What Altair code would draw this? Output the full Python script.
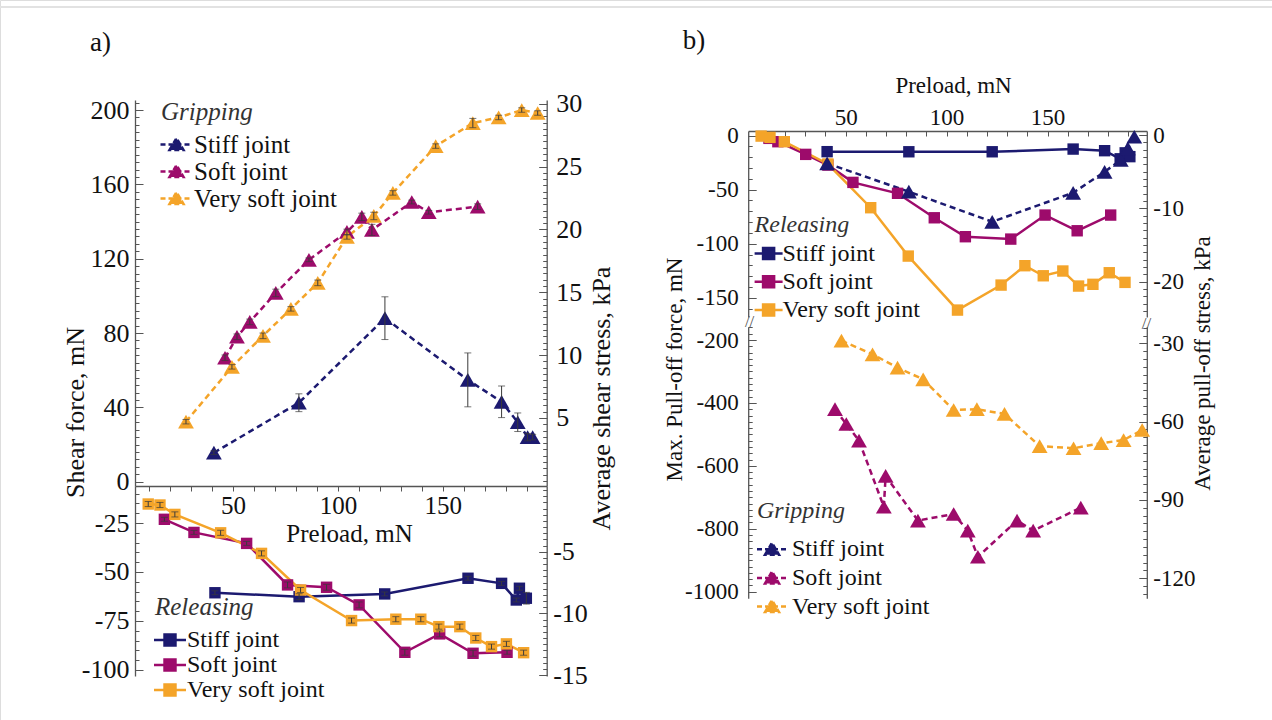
import altair as alt
import pandas as pd

# ---------------- data ----------------
SERIES = ["Stiff joint", "Soft joint", "Very soft joint"]
COLORS = ["#1c1a70", "#9d0b6b", "#f4a429"]

# panel a) - gripping (shear force, mN)
A_GRIP_STIFF_X = [40.9, 81.4, 122.4, 161.9, 178.0, 185.7, 190.4, 192.8]
A_GRIP_STIFF_Y = [15.6, 42.5, 88.0, 54.8, 43.0, 32.0, 24.0, 24.0]
A_GRIP_STIFF_E = [1.0, 4.8, 11.5, 14.5, 8.5, 5.0, 2.0, 1.5]
A_GRIP_SOFT_X = [46.2, 51.9, 58.0, 70.4, 86.2, 104.3, 111.4, 116.2, 135.2, 143.3, 166.6]
A_GRIP_SOFT_Y = [66.7, 78.0, 86.0, 101.6, 119.4, 134.4, 142.5, 135.5, 150.5, 145.0, 148.0]
A_GRIP_SOFT_E = [1.5, 1.5, 1.5, 2.0, 1.0, 1.5, 2.0, 3.0, 1.0, 1.0, 1.5]
A_GRIP_VSOFT_X = [27.6, 49.5, 64.3, 77.6, 90.4, 104.3, 117.1, 126.2, 146.6, 164.3, 176.6, 187.6, 195.2]
A_GRIP_VSOFT_Y = [32.3, 61.8, 78.5, 93.0, 107.0, 131.7, 143.0, 155.4, 180.6, 193.0, 196.0, 200.0, 198.4]
A_GRIP_VSOFT_E = [1.2, 1.2, 1.5, 1.2, 1.5, 1.2, 2.0, 1.2, 1.2, 2.5, 1.2, 1.2, 1.2]

# panel a) - releasing
A_REL_STIFF_X = [41.4, 81.5, 122.3, 162.0, 178.0, 185.0, 186.5, 189.8]
A_REL_STIFF_Y = [-60.6, -62.6, -61.2, -53.2, -55.8, -64.3, -58.3, -63.4]
A_REL_STIFF_E = [1.0, 1.5, 1.0, 1.0, 1.0, 1.0, 1.0, 3.0]
A_REL_SOFT_X = [17.3, 31.4, 56.5, 76.0, 94.6, 110.1, 131.9, 148.5, 164.4, 180.6]
A_REL_SOFT_Y = [-23.1, -29.8, -35.4, -56.6, -57.8, -66.8, -91.0, -81.6, -91.5, -91.0]
A_REL_SOFT_E = [1.0, 1.0, 1.0, 1.5, 1.5, 1.5, 1.5, 1.5, 1.5, 1.0]
A_REL_VSOFT_X = [9.6, 15.2, 22.3, 44.1, 63.6, 82.2, 106.5, 127.6, 139.5, 148.1, 158.1, 165.7, 173.2, 180.3, 188.5]
A_REL_VSOFT_Y = [-15.3, -15.8, -20.6, -30.0, -40.5, -59.2, -74.8, -74.1, -74.1, -77.9, -77.9, -83.7, -88.1, -86.7, -91.2]
A_REL_VSOFT_E = [1.3, 1.3, 1.3, 1.3, 1.3, 1.3, 1.3, 1.3, 1.3, 1.3, 1.3, 1.3, 1.3, 1.3, 1.3]

# panel b) - releasing (max. pull-off force, mN)
B_REL_STIFF_X = [40.8, 81.3, 122.6, 162.7, 178.3, 186.0, 188.5, 190.8]
B_REL_STIFF_Y = [-14.9, -15.0, -15.0, -12.5, -14.0, -21.5, -16.0, -19.5]
B_REL_SOFT_X = [12.0, 16.4, 30.2, 41.2, 53.6, 75.7, 93.9, 109.3, 131.8, 148.8, 164.7, 181.3]
B_REL_SOFT_Y = [-2.6, -5.7, -17.4, -27.3, -43.3, -53.4, -76.0, -93.5, -95.7, -73.5, -88.0, -73.5]
B_REL_VSOFT_X = [8.1, 12.5, 19.6, 41.2, 62.4, 81.0, 105.4, 127.0, 138.8, 147.9, 157.6, 165.4, 172.5, 180.6, 188.4]
B_REL_VSOFT_Y = [-0.5, -1.7, -5.7, -26.3, -66.7, -111.4, -161.3, -138.2, -120.3, -129.6, -125.2, -139.1, -137.5, -126.8, -135.7]
B_GRIP_STIFF_X = [40.8, 81.3, 122.6, 162.7, 178.3, 186.3, 189.8, 193.0]
B_GRIP_STIFF_Y = [-25.7, -51.9, -79.7, -52.9, -33.5, -22.6, -11.8, -1.1]

# panel b) - gripping
B_GRIP_SOFT_X = [44.7, 50.3, 56.6, 68.9, 69.8, 85.8, 103.5, 110.5, 115.5, 134.9, 142.9, 166.5]
B_GRIP_SOFT_Y = [-420, -467, -520, -730, -632, -774, -753, -806, -889, -774, -806, -733]
B_GRIP_VSOFT_X = [47.9, 63.3, 75.7, 88.4, 103.5, 115.0, 128.7, 146.1, 162.9, 176.6, 187.7, 196.9]
B_GRIP_VSOFT_Y = [-202, -245.5, -288, -325, -422.5, -420, -435, -537, -544, -528, -518, -486]

# ---------------- layout / styling ----------------
FONT = "Liberation Serif"
TXT = "#111111"
AX = "#555555"
ERR = "#3a3a3a"
W, H = 1272, 720
LW = 2.5
TRI_SIZE, SQ_SIZE = 250, 130

A_XDOM, A_XR = [3.3, 199.5], [135, 546.7]
B_XDOM, B_XR = [1.7, 199.2], [748.2, 1146.8]
A_TOP_Y, A_TOP_R, A_TOP_PX = [-2.31, 205.4], [-0.41, 30.29], [486, 100]
A_BOT_Y, A_BOT_R, A_BOT_PX = [-103.1, -6.1], [-15.08, 0.33], [676, 486]
B_TOP_Y, B_TOP_R, B_TOP_PX = [-167.7, 4.2], [-24.8, 0.55], [317, 131]
B_BOT_Y, B_BOT_R, B_BOT_PX = [-1021.0, -157.7], [-127.7, -23.6], [598.3, 326.7]


def frange(lo, hi, step, dom):
    out, v = [], lo
    while v <= hi + 1e-9:
        if dom[0] - 1e-9 <= v <= dom[1] + 1e-9:
            out.append(round(v, 4))
        v += step
    return out


def sframe(xs, ys, name, es=None):
    return pd.DataFrame({"x": xs, "y": ys, "s": name,
                         "e": es if es is not None else [0.0] * len(xs)})


def sc(dom, rng):
    return alt.Scale(domain=dom, range=rng, nice=False, zero=False)


def cscale():
    return alt.Scale(domain=SERIES, range=COLORS)


def legend(title, lsize, tsize, path, dash, lx, ly, row_pad, title_pad, label_offset, ghost):
    # the visible legend draws line + outline; the "ghost" one (same layout) fills the marker
    kw = dict(title=" " if ghost else title, orient="none", legendX=lx, legendY=ly,
              direction="vertical",
              titleFont=FONT, titleFontSize=tsize, titleFontStyle="italic",
              titleFontWeight="normal", titleColor="#333333", titlePadding=title_pad,
              titleAnchor="start", titleAlign="left",
              labelFont=FONT, labelFontSize=lsize, labelColor=TXT, labelOffset=label_offset,
              labelLimit=400, symbolType=path, symbolSize=256,
              symbolOpacity=1, rowPadding=row_pad, padding=0, offset=0)
    if ghost:
        kw.update(labelExpr="' '", symbolStrokeWidth=0)
    else:
        kw.update(symbolStrokeWidth=2.5)
        if dash:
            kw["symbolDash"] = dash
    return alt.Legend(**kw)


def data_layers(frames, xdom, xr, ydom, yr, dashed, shape, size, leg_args):
    df = pd.concat(frames, ignore_index=True)
    X = alt.X("x:Q", scale=sc(xdom, xr), axis=None)
    Y = alt.Y("y:Q", scale=sc(ydom, yr), axis=None)
    lkw = dict(strokeWidth=LW)
    if dashed:
        lkw["strokeDash"] = [6, 4]
    layers = [
        alt.Chart(df).mark_line(**lkw).encode(
            X, Y, stroke=alt.Stroke("s:N", scale=cscale(), legend=legend(*leg_args, False))),
        alt.Chart(df).mark_point(filled=True, shape=shape, size=size, opacity=1).encode(
            X, Y, fill=alt.Fill("s:N", scale=cscale(), legend=legend(*leg_args, True))),
    ]
    edf = df[df["e"] > 0]
    if len(edf):
        base = alt.Chart(edf).transform_calculate(lo="datum.y - datum.e", hi="datum.y + datum.e")
        layers.append(base.mark_rule(color=ERR, strokeWidth=1).encode(
            X, alt.Y("lo:Q", scale=sc(ydom, yr), axis=None), y2="hi:Q"))
        layers.append(base.transform_fold(["lo", "hi"], as_=["k", "v"]).mark_tick(
            orient="horizontal", size=7, thickness=1, color=ERR).encode(
            X, alt.Y("v:Q", scale=sc(ydom, yr), axis=None)))
    return layers


def y_axes(dom, yr, x0, x1, major, minor, side, lsize, lpad, title=None, tx=0.0, ty=0.0, tsize=23):
    # side: 'left' axis at x0, 'right' axis at x1 (absolute pixels)
    d = pd.DataFrame({"v": dom})
    if side == "left":
        off_main, other, off_in = -x0, "right", -(W - x0)
    else:
        off_main, other, off_in = -(W - x1), "left", -x1
    kw = dict(orient=side, offset=off_main, values=major, ticks=False, tickSize=0, domain=True,
              domainColor=AX, domainWidth=1.3, labelFont=FONT, labelFontSize=lsize,
              labelColor=TXT, labelPadding=lpad, labelExpr="datum.value + ''",
              labelOverlap=False, labelFlush=False, grid=False)
    if title:
        kw.update(title=title, titleX=tx, titleY=ty, titleAngle=270, titleAlign="center",
                  titleBaseline="middle", titleFont=FONT, titleFontSize=tsize,
                  titleFontWeight="normal", titleColor=TXT)
    else:
        kw["title"] = None
    layers = [alt.Chart(d).mark_point(opacity=0).encode(
        y=alt.Y("v:Q", scale=sc(dom, yr), axis=alt.Axis(**kw)))]
    for vals, ts in ((major, 8), (minor, 4)):
        layers.append(alt.Chart(d).mark_point(opacity=0).encode(
            y=alt.Y("v:Q", scale=sc(dom, yr), axis=alt.Axis(
                orient=other, offset=off_in, values=vals, ticks=True, tickSize=ts,
                tickColor=AX, tickWidth=1, labels=False, domain=False, grid=False,
                title=None))))
    return layers


def text_layer(txt, px, py, size, color=TXT):
    return alt.Chart(pd.DataFrame({"t": [txt]})).mark_text(
        font=FONT, fontSize=size, color=color, align="center", baseline="middle").encode(
        text="t:N", x=alt.value(px), y=alt.value(py))


# ---------------- legend symbols (line + marker) ----------------
TRI_A = "M-1.625,0L2.375,0M-0.5,0.69L0.375,-0.81L1.25,0.69Z"
SQ_A = "M-1.625,0L2.375,0M-0.31,-0.69L1.06,-0.69L1.06,0.69L-0.31,0.69Z"
SQ_B = "M-1.5,0L2,0M-0.44,-0.69L0.94,-0.69L0.94,0.69L-0.44,0.69Z"
TRI_B = "M-1.5,0L2.25,0M-0.5,0.69L0.375,-0.81L1.25,0.69Z"

layers = []

# faint frame line at the top of the figure
layers.append(alt.Chart(pd.DataFrame({"t": [0]})).mark_rule(color="#e2e2e2", strokeWidth=2).encode(
    x=alt.value(0), x2=alt.value(W), y=alt.value(7)))

# ---- panel a) top: gripping ----
layers += data_layers(
    [sframe(A_GRIP_STIFF_X, A_GRIP_STIFF_Y, SERIES[0], A_GRIP_STIFF_E),
     sframe(A_GRIP_SOFT_X, A_GRIP_SOFT_Y, SERIES[1], A_GRIP_SOFT_E),
     sframe(A_GRIP_VSOFT_X, A_GRIP_VSOFT_Y, SERIES[2], A_GRIP_VSOFT_E)],
    A_XDOM, A_XR, A_TOP_Y, A_TOP_PX, True, "triangle-up", TRI_SIZE,
    ("Gripping", 25, 25, TRI_A, [5, 3], 161, 100, 1, 7, 8))
layers += y_axes(A_TOP_Y, A_TOP_PX, A_XR[0], A_XR[1], [0, 40, 80, 120, 160, 200],
                 frange(0, 204, 4, A_TOP_Y), "left", 26, 6, "Shear force, mN", -60, 412, 26)
layers += y_axes(A_TOP_R, A_TOP_PX, A_XR[0], A_XR[1], [5, 10, 15, 20, 25, 30],
                 frange(0, 30, 0.5, A_TOP_R), "right", 26, 9,
                 "Average shear stress, kPa", 55, 398, 26)
layers.append(alt.Chart(pd.DataFrame({"v": A_XDOM})).mark_point(opacity=0).encode(
    x=alt.X("v:Q", scale=sc(A_XDOM, A_XR), axis=alt.Axis(
        orient="bottom", offset=-(H - 486), values=list(range(10, 200, 10)), tickSize=5,
        tickColor=AX, domain=True, domainColor=AX, domainWidth=1.3, grid=False,
        labelExpr="datum.value % 50 === 0 ? datum.value + '' : ''",
        labelFont=FONT, labelFontSize=25, labelColor=TXT, labelPadding=2,
        labelOverlap=False, labelFlush=False,
        title="Preload, mN", titleX=349, titleY=47, titleAlign="center",
        titleBaseline="middle", titleFont=FONT, titleFontSize=25,
        titleFontWeight="normal", titleColor=TXT))))
layers.append(text_layer("a)", 100.5, 43, 27))

# ---- panel a) bottom: releasing ----
layers += data_layers(
    [sframe(A_REL_STIFF_X, A_REL_STIFF_Y, SERIES[0], A_REL_STIFF_E),
     sframe(A_REL_SOFT_X, A_REL_SOFT_Y, SERIES[1], A_REL_SOFT_E),
     sframe(A_REL_VSOFT_X, A_REL_VSOFT_Y, SERIES[2], A_REL_VSOFT_E)],
    A_XDOM, A_XR, A_BOT_Y, A_BOT_PX, False, "square", SQ_SIZE,
    ("Releasing", 24, 25, SQ_A, None, 155, 595, 1, 8, 8))
layers += y_axes(A_BOT_Y, A_BOT_PX, A_XR[0], A_XR[1], [-25, -50, -75, -100],
                 frange(-100, -10, 5, A_BOT_Y), "left", 26, 6)
layers += y_axes(A_BOT_R, A_BOT_PX, A_XR[0], A_XR[1], [-5, -10, -15],
                 frange(-15, 0, 0.5, A_BOT_R), "right", 26, 6)

# ---- panel b) top: releasing (+ stiff joint gripping) ----
sg = sframe(B_GRIP_STIFF_X, B_GRIP_STIFF_Y, SERIES[0])
BX = alt.X("x:Q", scale=sc(B_XDOM, B_XR), axis=None)
BY = alt.Y("y:Q", scale=sc(B_TOP_Y, B_TOP_PX), axis=None)
layers.append(alt.Chart(sg).mark_line(color=COLORS[0], strokeWidth=LW,
                                      strokeDash=[6, 4]).encode(BX, BY))
layers += data_layers(
    [sframe(B_REL_STIFF_X, B_REL_STIFF_Y, SERIES[0]),
     sframe(B_REL_SOFT_X, B_REL_SOFT_Y, SERIES[1]),
     sframe(B_REL_VSOFT_X, B_REL_VSOFT_Y, SERIES[2])],
    B_XDOM, B_XR, B_TOP_Y, B_TOP_PX, False, "square", SQ_SIZE,
    ("Releasing", 24, 24, SQ_B, None, 754.6, 212.5, 4.3, 5, 4))
layers.append(alt.Chart(sg).mark_point(color=COLORS[0], filled=True, shape="triangle-up",
                                       size=TRI_SIZE, opacity=1).encode(BX, BY))
layers += y_axes(B_TOP_Y, B_TOP_PX, B_XR[0], B_XR[1], [0, -50, -100, -150],
                 frange(-160, 0, 10, B_TOP_Y), "left", 23, 10)
layers += y_axes(B_TOP_R, B_TOP_PX, B_XR[0], B_XR[1], [0, -10, -20],
                 frange(-24, 0, 1, B_TOP_R), "right", 23, 6)
bxd = pd.DataFrame({"v": B_XDOM})
layers.append(alt.Chart(bxd).mark_point(opacity=0).encode(
    x=alt.X("v:Q", scale=sc(B_XDOM, B_XR), axis=alt.Axis(
        orient="top", offset=-131, values=[50, 100, 150], ticks=False, tickSize=0,
        domain=True, domainColor=AX, domainWidth=1.3, grid=False,
        labelExpr="datum.value + ''", labelFont=FONT, labelFontSize=23, labelColor=TXT,
        labelPadding=2, labelOverlap=False, labelFlush=False,
        title="Preload, mN", titleX=953, titleY=-46, titleAlign="center",
        titleBaseline="middle", titleFont=FONT, titleFontSize=23,
        titleFontWeight="normal", titleColor=TXT))))
layers.append(alt.Chart(bxd).mark_point(opacity=0).encode(
    x=alt.X("v:Q", scale=sc(B_XDOM, B_XR), axis=alt.Axis(
        orient="bottom", offset=-(H - 131), values=list(range(10, 200, 10)), tickSize=5,
        tickColor=AX, labels=False, domain=False, grid=False, title=None))))
layers.append(text_layer("b)", 694, 40.5, 27))
layers.append(text_layer("//", 749.6, 322, 17, AX))
layers.append(text_layer("//", 1146.5, 324, 17, AX))

# ---- panel b) bottom: gripping ----
layers += data_layers(
    [sframe(B_GRIP_SOFT_X, B_GRIP_SOFT_Y, SERIES[1]),
     sframe(B_GRIP_VSOFT_X, B_GRIP_VSOFT_Y, SERIES[2])],
    B_XDOM, B_XR, B_BOT_Y, B_BOT_PX, True, "triangle-up", TRI_SIZE,
    ("Gripping", 24, 24, TRI_B, [5, 3], 757, 499.2, 4.7, 14, 11))
layers += y_axes(B_BOT_Y, B_BOT_PX, B_XR[0], B_XR[1], [-200, -400, -600, -800, -1000],
                 frange(-1000, -160, 20, B_BOT_Y), "left", 23, 10,
                 "Max. Pull-off force, mN", -74, 369, 23)
layers += y_axes(B_BOT_R, B_BOT_PX, B_XR[0], B_XR[1], [-30, -60, -90, -120],
                 frange(-126, -24, 3, B_BOT_R), "right", 23, 6,
                 "Average pull-off stress, kPa", 56, 363, 23)

chart = alt.layer(*layers).resolve_scale(
    x="independent", y="independent", fill="independent", stroke="independent"
).resolve_axis(x="independent", y="independent").resolve_legend(
    fill="independent", stroke="independent"
).properties(
    width=W, height=H, padding=0, autosize=alt.AutoSizeParams(type="none"),
    background="white"
).configure_view(stroke=None).configure(font=FONT)

chart.save("out.html", embed_options={"renderer": "svg", "actions": False})
